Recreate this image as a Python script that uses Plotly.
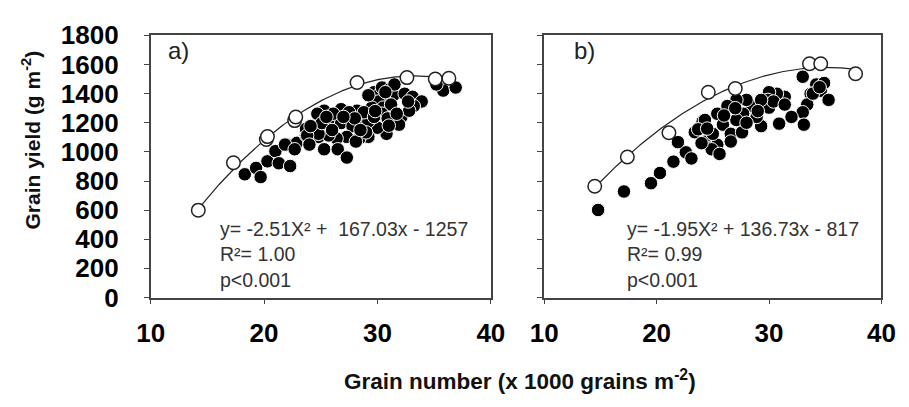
import numpy as np
import plotly.graph_objects as go

# ---------------- data ----------------
# Panel a) filled points
a_fill_x = [18.3, 19.3, 19.7, 20.3, 21.0, 21.3, 22.3, 22.0, 22.9, 23.7, 23.7, 21.85, 22.7, 24.0, 24.8, 25.0, 25.0,
            29.7, 30.1, 30.4, 31.1, 31.4, 30.7, 30.1, 32.4, 33.1, 33.9, 33.2, 32.1, 31.9, 30.8, 30.0, 29.2, 28.4,
            28.2, 26.8, 25.3, 24.7, 25.8, 26.8, 27.8, 28.8, 27.3, 26.4, 25.7, 24.8, 23.8, 24.0, 25.3, 26.5, 27.3,
            28.1, 29.2, 29.5, 30.5, 31.2, 30.4, 30.9, 32.8, 35.8, 36.9, 35.2, 27.5, 26.1, 28.8, 29.0, 25.1, 24.1,
            28.0, 29.7, 31.7, 32.7, 29.2, 31.5, 30.7, 26.0, 27.0, 28.5, 29.8, 31.0, 25.5]
a_fill_y = [846, 890, 827, 935, 1005, 922, 903, 1050, 1062, 1113, 1158, 1050, 1018, 1060, 1103, 1187, 1272,
            1410, 1389, 1442, 1431, 1389, 1346, 1346, 1399, 1378, 1346, 1315, 1240, 1187, 1124, 1166, 1103, 1092,
            1283, 1293, 1283, 1262, 1209, 1198, 1177, 1187, 1103, 1092, 1113, 1124, 1113, 1050, 1018, 1018, 961,
            1071, 1209, 1304, 1304, 1325, 1262, 1230, 1283, 1421, 1442, 1463, 1272, 1262, 1272, 1134, 1198, 1177,
            1230, 1240, 1262, 1346, 1389, 1463, 1410, 1150, 1240, 1150, 1280, 1180, 1240]
# Panel a) open points
a_open_x = [14.2, 17.3, 20.2, 20.3, 22.7, 22.8, 28.2, 32.6, 35.1, 36.3]
a_open_y = [600, 925, 1085, 1105, 1215, 1240, 1476, 1510, 1500, 1505]

# Panel b) filled points
b_fill_x = [14.8, 17.1, 19.5, 20.3, 21.5, 22.6, 21.9, 23.1, 23.4, 24.1, 24.4, 25.0, 24.9, 25.4,
            33.0, 34.2, 34.9, 34.6, 33.7, 33.4, 33.0, 33.1, 35.3, 32.0, 30.9, 31.4, 30.7, 30.0, 29.9,
            30.0, 29.3, 28.4, 28.0, 27.7, 27.1, 26.3, 25.9, 26.6, 27.6, 25.4, 24.9, 24.0, 24.3, 23.7,
            25.0, 25.6, 27.1, 28.9, 30.4, 29.3, 26.6, 31.4, 33.9, 34.5, 26.0, 28.0, 29.0, 27.0, 24.5]
b_fill_y = [601, 728, 785, 855, 933, 997, 1067, 955, 1135, 1209, 1071, 1124, 1029, 1262,
            1516, 1463, 1473, 1420, 1399, 1325, 1272, 1187, 1357, 1240, 1194, 1378, 1399, 1410, 1357,
            1304, 1177, 1315, 1357, 1262, 1357, 1315, 1187, 1124, 1134, 1049, 1018, 1060, 1219, 1155,
            1124, 986, 1219, 1240, 1346, 1357, 1071, 1325, 1400, 1444, 1250, 1200, 1280, 1300, 1160]
# Panel b) open points
b_open_x = [14.5, 17.4, 21.1, 24.6, 27.0, 33.6, 34.6, 37.7]
b_open_y = [764, 965, 1131, 1410, 1435, 1605, 1605, 1537]

# Fitted quadratic coefficients (a*x^2 + b*x + c) and x-extent, from the equations on the chart
a_coef = [-2.51, 167.03, -1257]
b_coef = [-1.95, 136.73, -817]
a_span = [14.2, 36.4]
b_span = [14.5, 37.7]

a_text = "y= -2.51X² +  167.03x - 1257<br>R²= 1.00<br>p<0.001"
b_text = "y= -1.95X² + 136.73x - 817<br>R²= 0.99<br>p<0.001"

# ---------------- figure ----------------
W, H = 909, 407
FONT = "Liberation Sans, Arial, sans-serif"

fig = go.Figure()

def add_panel(fx, fy, ox, oy, coef, span, xa, ya):
    xs = np.linspace(span[0], span[1], 200)
    ys = np.polyval(coef, xs)
    fig.add_trace(go.Scatter(x=fx, y=fy, mode="markers", xaxis=xa, yaxis=ya,
                             marker=dict(size=13.5, color="black", line=dict(color="white", width=1)),
                             showlegend=False, hoverinfo="skip"))
    fig.add_trace(go.Scatter(x=xs, y=ys, mode="lines", xaxis=xa, yaxis=ya,
                             line=dict(color="#222222", width=1.2), showlegend=False, hoverinfo="skip"))
    fig.add_trace(go.Scatter(x=ox, y=oy, mode="markers", xaxis=xa, yaxis=ya,
                             marker=dict(size=13.5, color="white", line=dict(color="#222222", width=1.5)),
                             showlegend=False, hoverinfo="skip"))

add_panel(a_fill_x, a_fill_y, a_open_x, a_open_y, a_coef, a_span, "x", "y")
add_panel(b_fill_x, b_fill_y, b_open_x, b_open_y, b_coef, b_span, "x2", "y2")

def px_x(p):
    return p / W

def px_y(p):
    return 1 - p / H

ydom = [px_y(305), px_y(22)]
axis_common = dict(showline=True, linecolor="#444444", linewidth=1.5, mirror=True,
                   ticks="outside", ticklen=5, tickcolor="#444444", tickwidth=1.2,
                   showgrid=False, zeroline=False,
                   tickfont=dict(family=FONT, size=26, color="black", weight="bold"))

fig.update_layout(
    width=W, height=H, margin=dict(l=0, r=0, t=0, b=0),
    paper_bgcolor="white", plot_bgcolor="white",
    xaxis=dict(domain=[px_x(141), px_x(492)], range=[10, 40], tickvals=[10, 20, 30, 40],
               anchor="y", ticklabelstandoff=7, **axis_common),
    yaxis=dict(domain=ydom, range=[0, 1800], dtick=200, anchor="x", ticklabelstandoff=20,
               **axis_common),
    xaxis2=dict(domain=[px_x(547), px_x(895)], range=[10, 40], tickvals=[10, 20, 30, 40],
                anchor="y2", ticklabelstandoff=7, **axis_common),
    yaxis2=dict(domain=ydom, range=[0, 1800], dtick=200, anchor="x2", showticklabels=False,
                **axis_common),
)

annots = [
    dict(text="a)", x=px_x(157), y=px_y(38), xanchor="left", yanchor="middle",
         font=dict(family=FONT, size=24, color="#222222")),
    dict(text="b)", x=px_x(576), y=px_y(38), xanchor="left", yanchor="middle",
         font=dict(family=FONT, size=24, color="#222222")),
    dict(text=a_text, x=px_x(210), y=px_y(217), xanchor="left", yanchor="top", align="left",
         font=dict(family=FONT, size=19.5, color="#333333")),
    dict(text=b_text, x=px_x(630), y=px_y(217), xanchor="left", yanchor="top", align="left",
         font=dict(family=FONT, size=19.5, color="#333333")),
    dict(text="Grain yield (g m<sup>-2</sup>)", x=px_x(18), y=px_y(135), textangle=-90,
         xanchor="center", yanchor="middle",
         font=dict(family=FONT, size=21, color="#111111", weight="bold")),
    dict(text="Grain number (x 1000 grains m<sup>-2</sup>)", x=px_x(522), y=px_y(394),
         xanchor="center", yanchor="middle",
         font=dict(family=FONT, size=22.5, color="#111111", weight="bold")),
]
for a in annots:
    a.update(xref="paper", yref="paper", showarrow=False)
fig.update_layout(annotations=annots)

fig.write_html("out.html")
